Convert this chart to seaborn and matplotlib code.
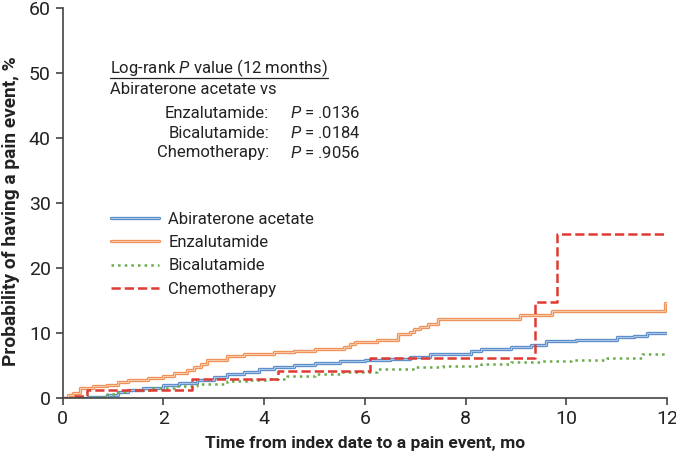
import numpy as np
import pandas as pd
import seaborn as sns
import matplotlib.pyplot as plt
import matplotlib.patheffects as pe
from matplotlib.lines import Line2D

# step curves (months, % with pain event)
abi_t = [0, 0.5, 0.87, 1.1, 1.3, 1.6, 2.0, 2.3, 2.66, 3.0, 3.26, 3.6, 3.9, 4.19, 4.6, 5.0, 5.5, 6.0, 6.5,
         6.9, 7.3, 8.1, 8.3, 8.9, 9.3, 9.6, 10.2, 11.0, 11.35, 11.6, 12.0]
abi_v = [0, 0.2, 0.4, 0.9, 1.3, 1.6, 2.0, 2.3, 2.75, 3.2, 3.66, 4.0, 4.4, 4.8, 5.1, 5.4, 5.7, 5.9, 6.0,
         6.3, 6.7, 7.2, 7.6, 7.9, 8.2, 8.75, 9.0, 9.4, 9.6, 10.0, 10.0]
enz_t = [0, 0.1, 0.2, 0.35, 0.6, 0.87, 1.1, 1.3, 1.7, 2.0, 2.2, 2.46, 2.6, 2.75, 2.86, 3.26, 3.6, 4.19,
         4.6, 5.0, 5.58, 5.7, 5.8, 6.25, 6.65, 6.9, 6.98, 7.1, 7.25, 7.45, 9.07, 9.72, 11.95, 12.0]
enz_v = [0, 0.4, 0.8, 1.55, 1.8, 2.0, 2.4, 2.8, 3.1, 3.4, 3.8, 4.3, 4.8, 5.3, 5.9, 6.4, 6.7, 7.1,
         7.3, 7.5, 7.8, 8.3, 8.6, 8.9, 9.9, 10.2, 10.6, 11.0, 11.4, 12.1, 12.7, 13.4, 14.6, 14.6]
bic_t = [0, 0.5, 0.87, 1.1, 1.3, 1.8, 2.2, 2.66, 3.26, 3.7, 4.06, 4.45, 5.0, 5.5, 6.25, 7.0, 7.55, 8.3,
         8.9, 9.5, 10.1, 10.8, 11.5, 12.0]
bic_v = [0, 0.2, 0.55, 0.9, 1.2, 1.5, 1.8, 2.2, 2.6, 2.8, 3.0, 3.35, 3.7, 4.0, 4.4, 4.7, 5.0, 5.2,
         5.5, 5.7, 5.9, 6.2, 6.8, 6.8]
chemo_t = [0, 0.19, 0.48, 2.56, 4.28, 6.1, 9.37, 9.81, 12.0]
chemo_v = [0, 0.3, 1.2, 3.0, 4.1, 6.15, 14.7, 25.3, 25.3]

names = ["Abiraterone acetate", "Enzalutamide", "Bicalutamide", "Chemotherapy"]
colors = ["#5b8cc8", "#ef8f55", "#6aaa4a", "#e03a33"]
p_labels = ["Enzalutamide:", "Bicalutamide:", "Chemotherapy:"]
p_values = [".0136", ".0184", ".9056"]

sns.set_style("ticks")
plt.rcParams['font.family'] = ['Roboto', 'DejaVu Sans']
plt.rcParams['mathtext.fontset'] = 'custom'
plt.rcParams['mathtext.rm'] = 'Roboto'
plt.rcParams['mathtext.it'] = 'Roboto:italic'

fig = plt.figure(figsize=(6.76, 4.58), dpi=100)
ax = fig.add_axes([0.0928, 0.131, 0.894, 0.8515])

series = [(abi_t, abi_v), (enz_t, enz_v), (bic_t, bic_v), (chemo_t, chemo_v)]
styles = ["-", "-", ":", "--"]
widths = [2.2, 2.2, 1.8, 1.8]
for (t, v), name, col, ls, lw in zip(series, names, colors, styles, widths):
    df = pd.DataFrame({"t": t, "v": v})
    sns.lineplot(data=df, x="t", y="v", ax=ax, color=col, linestyle=ls, linewidth=lw,
                 drawstyle="steps-post", label=name, sort=False)

# light centre on the two solid curves
light = {"Abiraterone acetate": "#a9c6ea", "Enzalutamide": "#f8c9a8"}
for line in ax.get_lines():
    if line.get_label() in light:
        line.set_path_effects([pe.Stroke(linewidth=2.4, foreground=line.get_color()),
                               pe.Stroke(linewidth=0.8, foreground=light[line.get_label()])])

ax.set_xlim(0, 12)
ax.set_ylim(0, 60)
ax.set_xticks(range(0, 13, 2))
ax.set_yticks(range(0, 61, 10))
sns.despine(ax=ax)
for s in ["left", "bottom"]:
    ax.spines[s].set_color("#444444")
    ax.spines[s].set_linewidth(1.2)
ax.tick_params(colors="#444444", labelcolor="#222222", labelsize=14, length=5, width=1.2)

ax.set_xlabel("Time from index date to a pain event, mo", fontsize=12.5, fontweight="bold",
              color="#222222", labelpad=6)
ax.set_ylabel("Probability of having a pain event, %", fontsize=13.8, fontweight="bold",
              color="#222222")
ax.yaxis.set_label_coords(-0.07, 0.48)

leg = ax.legend(loc="upper left", bbox_to_anchor=(0.055, 0.516), frameon=False, fontsize=12,
                handlelength=2.9, handletextpad=0.55, labelspacing=0.5)
for txt in leg.get_texts():
    txt.set_color("#222222")

def px(x, y):
    # figure pixel position -> figure fraction
    return x / 676, 1 - y / 458

tf = fig.transFigure
head = fig.text(*px(110, 68), "Log-rank $\\it{P}$ value (12 months)", fontsize=12,
                va="center", ha="left", color="#222222", transform=tf)
fig.text(*px(110, 90), "Abiraterone acetate vs", fontsize=12, va="center", ha="left",
         color="#222222", transform=tf)
for i, (lab, val) in enumerate(zip(p_labels, p_values)):
    y = 113 + i * 20
    fig.text(*px(269, y), lab, fontsize=12, va="center", ha="right", color="#222222")
    fig.text(*px(290, y), "$\\it{P}$ = " + val, fontsize=12, va="center", ha="left",
             color="#222222")

fig.canvas.draw()
bb = head.get_window_extent().transformed(tf.inverted())
fig.add_artist(Line2D([bb.x0, bb.x1], [bb.y0 + 0.002, bb.y0 + 0.002], color="#222222",
                      linewidth=0.9, transform=tf))

fig.savefig("out.png", dpi=100)
